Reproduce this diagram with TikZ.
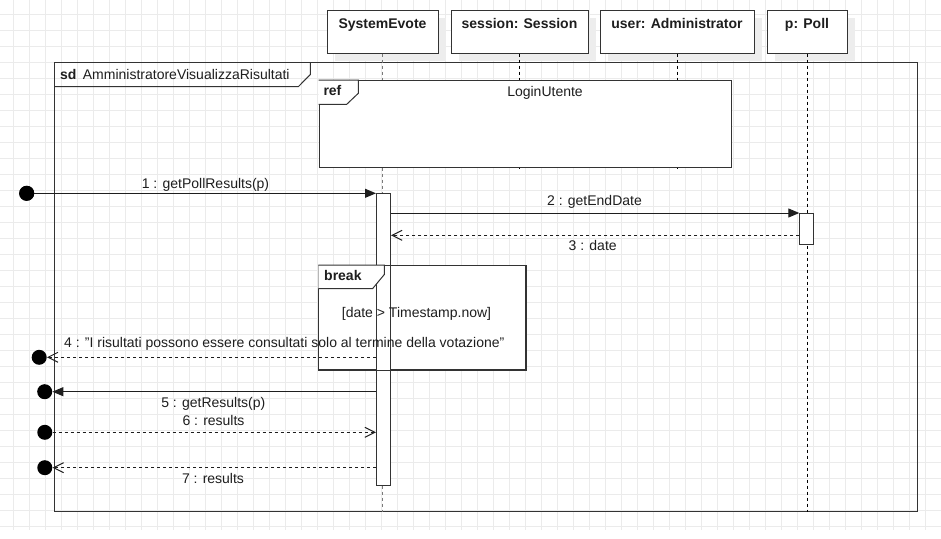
\documentclass[tikz,border=0pt]{standalone}
\usepackage{fontspec}
\setmainfont{Liberation Sans}
\usetikzlibrary{arrows.meta}
\definecolor{gridc}{HTML}{EBEBEB}
\definecolor{shadowc}{HTML}{EDEDED}
\definecolor{ink}{HTML}{1E1E1E}
\definecolor{edge}{HTML}{333333}
\definecolor{lifegray}{HTML}{7A7A7A}
\begin{document}
\begin{tikzpicture}[x=1pt,y=-1pt,
  txt/.style={font=\fontsize{14}{16}\selectfont, text=ink, inner sep=0pt, anchor=base},
  btxt/.style={txt, font=\fontsize{14}{16}\selectfont\bfseries},
  objbox/.style={draw=edge, line width=1pt, fill=white, inner sep=0pt, minimum height=43pt},
  framebox/.style={draw=edge, line width=1pt, inner sep=0pt, anchor=north west},
  tabshape/.style={draw=edge, line width=1pt, fill=white},
  actbar/.style={draw=edge, line width=1pt, fill=white, inner sep=0pt, minimum width=14pt, anchor=north west},
  gate/.style={circle, fill=black, inner sep=0pt, minimum size=15pt},
  lifeline/.style={draw=black, line width=1pt, dash pattern=on 3pt off 3pt},
  msg/.style={draw=ink, line width=1pt},
  reply/.style={msg, dash pattern=on 3pt off 3pt},
  synctip/.style={-{Triangle[length=11pt,width=9pt]}},
  opentip/.style={-{Straight Barb[length=10pt,width=10pt,line width=1pt]}}
]
\useasboundingbox (0,0) rectangle (941,538);
\fill[white] (0,0) rectangle (941,538);

% background grid
\foreach \i in {0,...,58}
  \draw[gridc, line width=1pt] (13.3+16*\i,0) -- (13.3+16*\i,530);
\foreach \j in {0,...,32}
  \draw[gridc, line width=1pt] (0,14+16*\j) -- (941,14+16*\j);

% lifeline heads (with soft shadows)
\fill[shadowc] (335,18) rectangle (446,61);
\fill[shadowc] (459,18) rectangle (596,61);
\fill[shadowc] (608,18) rectangle (762,61);
\fill[shadowc] (775,18) rectangle (855,61);
\node[objbox, minimum width=111pt] (sys) at (382.5,31.5) {};
\node[objbox, minimum width=137pt] (ses) at (519.5,31.5) {};
\node[objbox, minimum width=154pt] (usr) at (677,31.5) {};
\node[objbox, minimum width=80pt] (poll) at (807,31.5) {};
\node[btxt] (sysl) at (382.5,28) {SystemEvote};
\node[btxt] (sesl) at (519.5,28) {session: Session};
\node[btxt] (usrl) at (677,28) {user: Administrator};
\node[btxt] (polll) at (807,28) {p: Poll};

% interaction frame
\node[framebox, minimum width=862.4pt, minimum height=448.4pt] (sd) at (54.3,62.3) {};
\draw[tabshape, fill=none] (54.3,86.7) -- (298.3,86.7) -- (310.3,74.5) -- (310.3,62.3);
\node[btxt, anchor=base west] (sdk) at (60,79) {sd};
\node[txt, anchor=base west] (sdn) at (82.7,79) {AmministratoreVisualizzaRisultati};

% lifelines
\draw[lifeline, draw=lifegray] (sys.south) -- (sys.south |- sd.south);
\draw[lifeline] (ses.south) -- ++(0,115);
\draw[lifeline] (usr.south) -- ++(0,115);
\draw[lifeline] (poll.south) -- (poll.south |- sd.south);

% ref fragment
\node[framebox, fill=white, minimum width=412.3pt, minimum height=86.7pt] (ref) at (318.7,80) {};
\draw[tabshape] (318.7,80) -- (358.3,80) -- (358.3,93.3) -- (346.7,104.3) -- (318.7,104.3);
\node[btxt, anchor=base west] (refk) at (323.3,95.7) {ref};
\node[txt] (refn) at (545,96) {LoginUtente};

% break fragment background
\node[framebox, fill=white, minimum width=207pt, minimum height=104.3pt] (brk) at (318.3,265) {};

% activations
\node[actbar, minimum height=292pt] (sysbar) at (376,193) {};
\node[actbar, minimum height=31pt] (pollbar) at (799.3,213) {};

% break fragment outline over the activation
\draw[edge, line width=1pt] (brk.north west) rectangle (brk.south east);
\draw[tabshape] (318.3,265) -- (384.3,265) -- (384.3,274.5) -- (372.7,288.5) -- (318.3,288.5);
\node[btxt, anchor=base west] (brkk) at (324,280) {break};
\node[txt] (guard) at (416.5,317) {[date > Timestamp.now]};

% gates
\node[gate] (g1) at (26.7,193.3) {};
\node[gate] (g4) at (39.2,357.3) {};
\node[gate] (g5) at (44.7,391.7) {};
\node[gate] (g6) at (44.8,432.3) {};
\node[gate] (g7) at (44.8,467.7) {};
\coordinate (y3) at (0,235.3);

% messages
\draw[msg, synctip] (g1.center) -- (sysbar.west |- g1);
\draw[msg, synctip] (sysbar.east |- pollbar.north) -- (pollbar.north west);
\draw[reply, opentip] (pollbar.west |- y3) -- (sysbar.east |- y3);
\draw[reply, opentip] (sysbar.west |- g4) -- (g4.east);
\draw[msg, synctip] (sysbar.west |- g5) -- (g5.east);
\draw[reply, opentip] (g6.east) -- (sysbar.west |- g6);
\draw[reply, opentip] (sysbar.west |- g7) -- (g7.east);
\node[gate] (g1b) at (g1) {};

% message labels
\node[txt] (l1) at (205.5,188) {1 : getPollResults(p)};
\node[txt] (l2) at (594.5,205.7) {2 : getEndDate};
\node[txt] (l3) at (592.7,250) {3 : date};
\node[txt] (l4) at (284.3,347.3) {4 : "I risultati possono essere consultati solo al termine della votazione"};
\node[txt] (l5) at (213.3,407.7) {5 : getResults(p)};
\node[txt] (l6) at (213.5,425) {6 : results};
\node[txt] (l7) at (213,483.3) {7 : results};
\end{tikzpicture}
\end{document}
